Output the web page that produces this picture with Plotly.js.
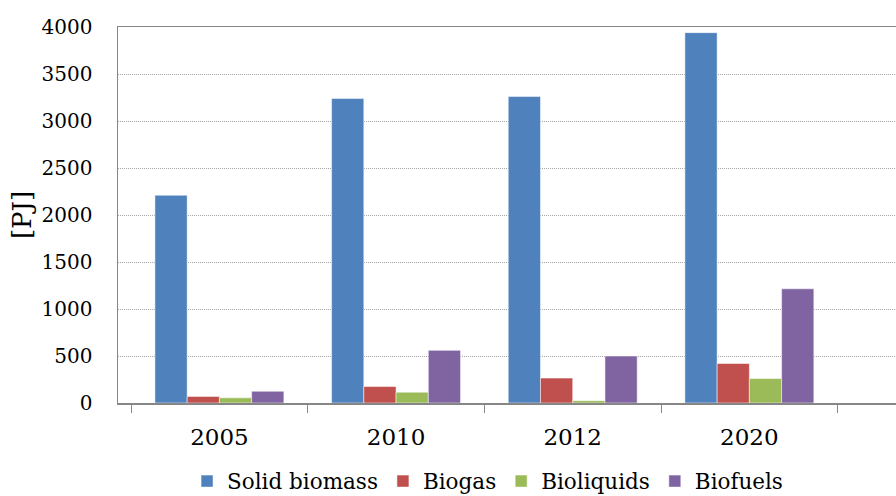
<!DOCTYPE html>
<html>
<head>
<meta charset="utf-8">
<script src="https://cdn.plot.ly/plotly-3.0.1.min.js"></script>
<style>html,body{margin:0;padding:0;background:#fff;}#chart{width:896px;height:496px;}</style>
</head>
<body>
<div id="chart"></div>
<script>
const years = ['2005', '2010', '2012', '2020'];
const solidBiomass = [2210, 3240, 3260, 3940];
const biogas = [70, 175, 265, 420];
const bioliquids = [55, 115, 25, 260];
const biofuels = [125, 560, 500, 1215];
const seriesNames = ['Solid biomass', 'Biogas', 'Bioliquids', 'Biofuels'];
const seriesColors = ['#4F81BD', '#C0504D', '#9BBB59', '#8064A2'];
const yTicks = [0, 500, 1000, 1500, 2000, 2500, 3000, 3500, 4000];

const seriesValues = [solidBiomass, biogas, bioliquids, biofuels];
const traces = seriesValues.map((vals, i) => ({
  type: 'bar',
  name: seriesNames[i],
  x: years,
  y: vals,
  marker: {color: seriesColors[i], line: {color: 'rgba(255,255,255,0.5)', width: 1}},
  hoverinfo: 'skip'
}));

const font = 'DejaVu Serif, Liberation Serif, serif';
const layout = {
  width: 896, height: 496,
  margin: {l: 118, r: 0, t: 27, b: 93, autoexpand: false},
  paper_bgcolor: '#fff', plot_bgcolor: '#fff',
  barmode: 'group', bargap: 0.27, bargroupgap: 0,
  showlegend: true,
  font: {family: font, color: '#000'},
  xaxis: {
    type: 'category',
    range: [-0.574, 3.83],
    automargin: false,
    showline: true, linecolor: '#868686', linewidth: 1.5, mirror: true,
    ticks: 'outside', tickson: 'boundaries', ticklen: 8, tickcolor: '#868686',
    tickfont: {family: font, size: 23, color: '#000'},
    ticklabelstandoff: 13,
    showgrid: false, zeroline: false, fixedrange: true
  },
  yaxis: {
    range: [0, 4000],
    automargin: false,
    tickvals: yTicks,
    ticktext: yTicks.map(String),
    showline: true, linecolor: '#868686', linewidth: 1.5,
    ticks: '', ticklabelstandoff: 20,
    tickfont: {family: font, size: 20, color: '#000'},
    showgrid: true, gridcolor: '#A6A6A6', griddash: '1px,1px', gridwidth: 1,
    zeroline: false,
    title: {text: '[PJ]', font: {family: font, size: 26, color: '#000'}, standoff: 2},
    fixedrange: true
  },
  legend: {
    orientation: 'h', x: 0.475, xanchor: 'center',
    yref: 'container', y: 0.03, yanchor: 'middle',
    font: {family: font, size: 21.5, color: '#000'},
    itemclick: false, itemdoubleclick: false
  }
};

Plotly.newPlot('chart', traces, layout, {staticPlot: true, displayModeBar: false});
</script>
</body>
</html>
